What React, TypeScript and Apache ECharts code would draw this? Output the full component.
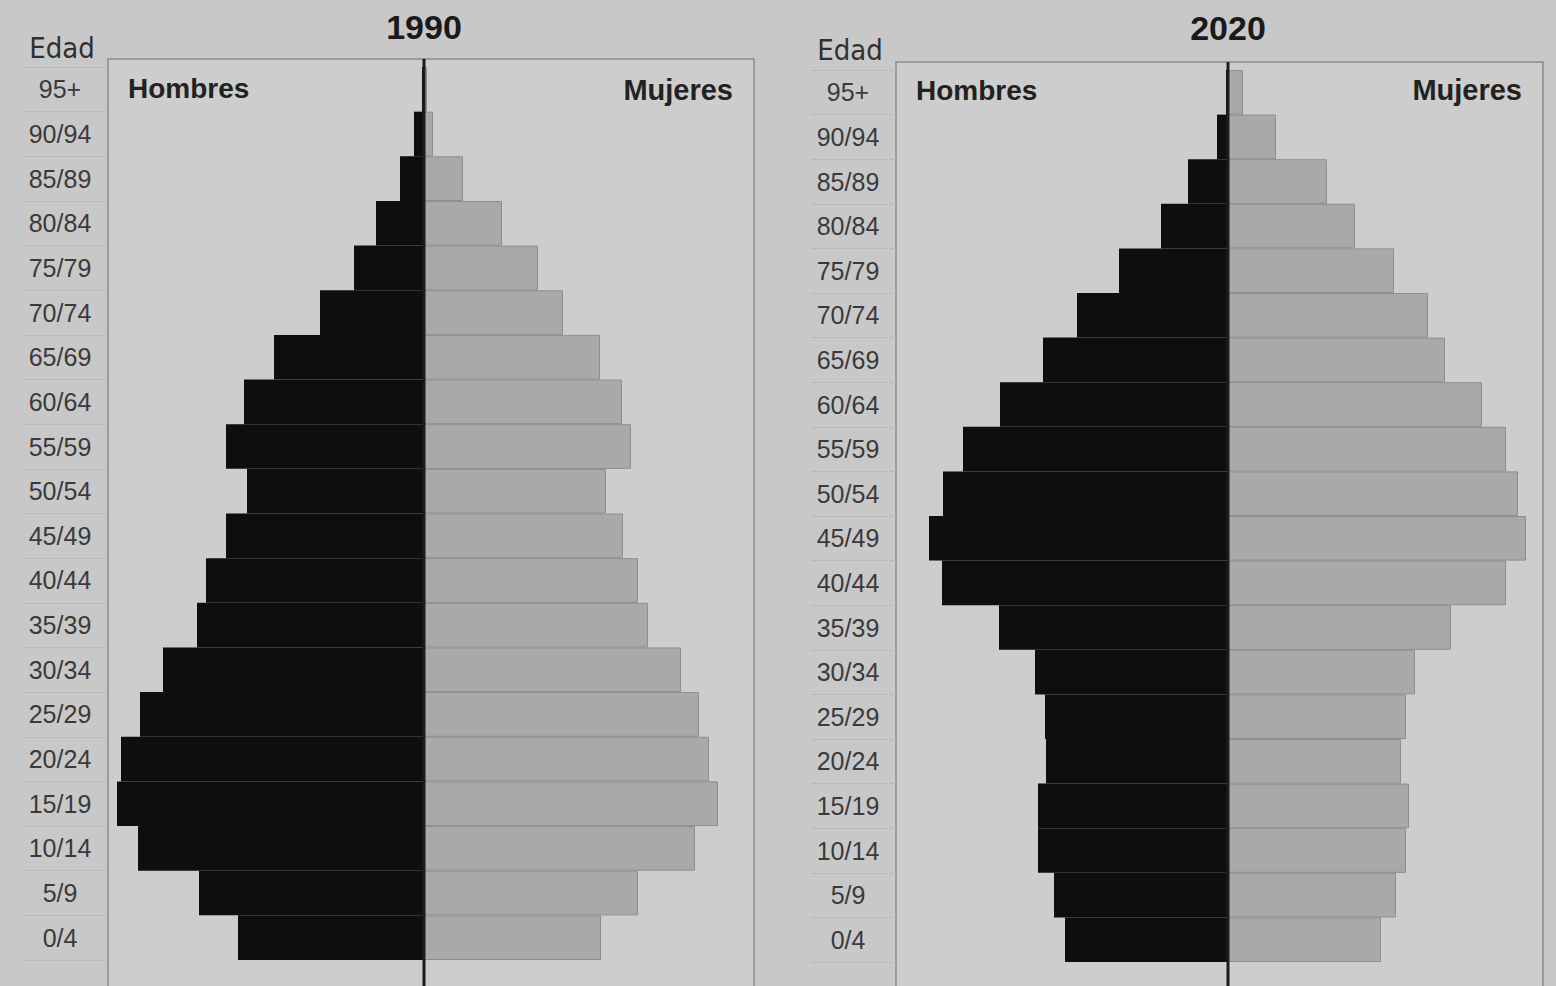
import React, { useEffect, useRef } from "react";
import * as echarts from "echarts";

// Age groups, top to bottom
const ageGroups = [
  "95+", "90/94", "85/89", "80/84", "75/79", "70/74", "65/69", "60/64", "55/59", "50/54",
  "45/49", "40/44", "35/39", "30/34", "25/29", "20/24", "15/19", "10/14", "5/9", "0/4",
];

// Relative sizes (same arbitrary unit for both years)
const men1990 = [2, 10, 24, 48, 70, 104, 150, 180, 198, 177, 198, 218, 227, 261, 284, 303, 307, 286, 225, 186];
const women1990 = [3, 9, 39, 78, 114, 139, 176, 198, 207, 182, 199, 214, 224, 257, 275, 285, 294, 271, 214, 177];
const men2020 = [2, 11, 40, 67, 109, 151, 185, 228, 265, 285, 299, 286, 229, 193, 183, 182, 190, 190, 174, 163];
const women2020 = [15, 48, 99, 127, 166, 200, 217, 254, 278, 290, 298, 278, 223, 187, 178, 173, 181, 178, 168, 153];

const years = ["1990", "2020"];
const ageTitle = "Edad";
const menLabel = "Hombres";
const womenLabel = "Mujeres";

const FONT = "'Liberation Sans', Arial, sans-serif";
const NARROW = "'Liberation Sans Narrow', 'DejaVu Sans Condensed', 'Liberation Sans', sans-serif";

export default function App() {
  const ref = useRef<HTMLDivElement>(null);

  useEffect(() => {
    const el = ref.current;
    if (!el) return;
    const chart = echarts.init(el, null, { renderer: "svg" });

    const panels = [
      { left: 108, right: 754, top: 67, height: 893, min: -316, max: 330, frameTop: 59, men: men1990, women: women1990 },
      { left: 896, right: 1543, top: 70, height: 892, min: -332, max: 315, frameTop: 62, men: men2020, women: women2020 },
    ];

    const grid = panels.map((p) => ({
      left: p.left,
      top: p.top,
      width: p.right - p.left,
      height: p.height,
      containLabel: false,
    }));

    const xAxis = panels.map((p, i) => ({
      type: "value",
      gridIndex: i,
      min: p.min,
      max: p.max,
      show: false,
    }));

    const yAxis = panels.map((p, i) => ({
      type: "category",
      gridIndex: i,
      data: ageGroups,
      inverse: true,
      position: "left",
      axisLine: { show: false, onZero: false },
      axisTick: {
        show: true,
        length: 85,
        lineStyle: { color: "#acacac", type: "dotted", width: 1 },
      },
      splitLine: { show: true, lineStyle: { color: "rgba(0,0,0,0.04)", width: 1 } },
      axisLabel: {
        margin: 48,
        align: "center",
        fontFamily: FONT,
        fontSize: 25,
        color: "#3a3a3a",
      },
    }));

    const series: any[] = [];
    panels.forEach((p, i) => {
      series.push({
        type: "bar",
        name: menLabel + " " + years[i],
        xAxisIndex: i,
        yAxisIndex: i,
        stack: "s" + i,
        barWidth: "100%",
        barCategoryGap: "0%",
        data: p.men.map((v) => -v),
        itemStyle: { color: "#0e0e0e" },
        z: 2,
      });
      series.push({
        type: "bar",
        name: womenLabel + " " + years[i],
        xAxisIndex: i,
        yAxisIndex: i,
        stack: "s" + i,
        barWidth: "100%",
        barCategoryGap: "0%",
        data: p.women,
        itemStyle: { color: "#a9a9a9", borderColor: "#8e8e8e", borderWidth: 1 },
        z: 2,
      });
    });

    chart.setOption({
      animation: false,
      backgroundColor: "#c8c8c8",
      grid,
      xAxis,
      yAxis,
      series,
    });

    const graphic: any[] = [];
    panels.forEach((p, i) => {
      const cx = chart.convertToPixel({ xAxisIndex: i } as any, 0) as number;
      // frame
      graphic.push({
        type: "rect",
        z: 0,
        shape: { x: p.left, y: p.frameTop, width: p.right - p.left, height: 990 - p.frameTop },
        style: { fill: "#cdcdcd", stroke: "#8c8c8c", lineWidth: 1.5 },
      });
      // center line
      graphic.push({
        type: "line",
        z: 20,
        shape: { x1: cx, y1: p.frameTop, x2: cx, y2: 990 },
        style: { stroke: "#1c1c1c", lineWidth: 3 },
      });
      // year title
      graphic.push({
        type: "text",
        z: 20,
        x: cx,
        y: 27 + i,
        style: {
          text: years[i],
          fontFamily: FONT,
          fontWeight: "bold",
          fontSize: 34,
          fill: "#1a1a1a",
          align: "center",
          verticalAlign: "middle",
        },
      });
      // Edad
      graphic.push({
        type: "text",
        z: 20,
        x: p.left - 46,
        y: 48 + i * 2,
        style: {
          text: ageTitle,
          fontFamily: NARROW,
          fontSize: 29,
          fill: "#303030",
          align: "center",
          verticalAlign: "middle",
        },
      });
      // Hombres
      graphic.push({
        type: "text",
        z: 20,
        x: p.left + 20,
        y: 88 + i * 2,
        style: {
          text: menLabel,
          fontFamily: FONT,
          fontWeight: "bold",
          fontSize: 28,
          fill: "#222222",
          align: "left",
          verticalAlign: "middle",
        },
      });
      // Mujeres
      graphic.push({
        type: "text",
        z: 20,
        x: p.right - 21,
        y: 90,
        style: {
          text: womenLabel,
          fontFamily: FONT,
          fontWeight: "bold",
          fontSize: 29,
          fill: "#222222",
          align: "right",
          verticalAlign: "middle",
        },
      });
    });

    chart.setOption({ graphic });

    return () => {
      chart.dispose();
    };
  }, []);

  return (
    <div
      ref={ref}
      style={{ position: "absolute", left: 0, top: 0, width: 1556, height: 986 }}
    />
  );
}
